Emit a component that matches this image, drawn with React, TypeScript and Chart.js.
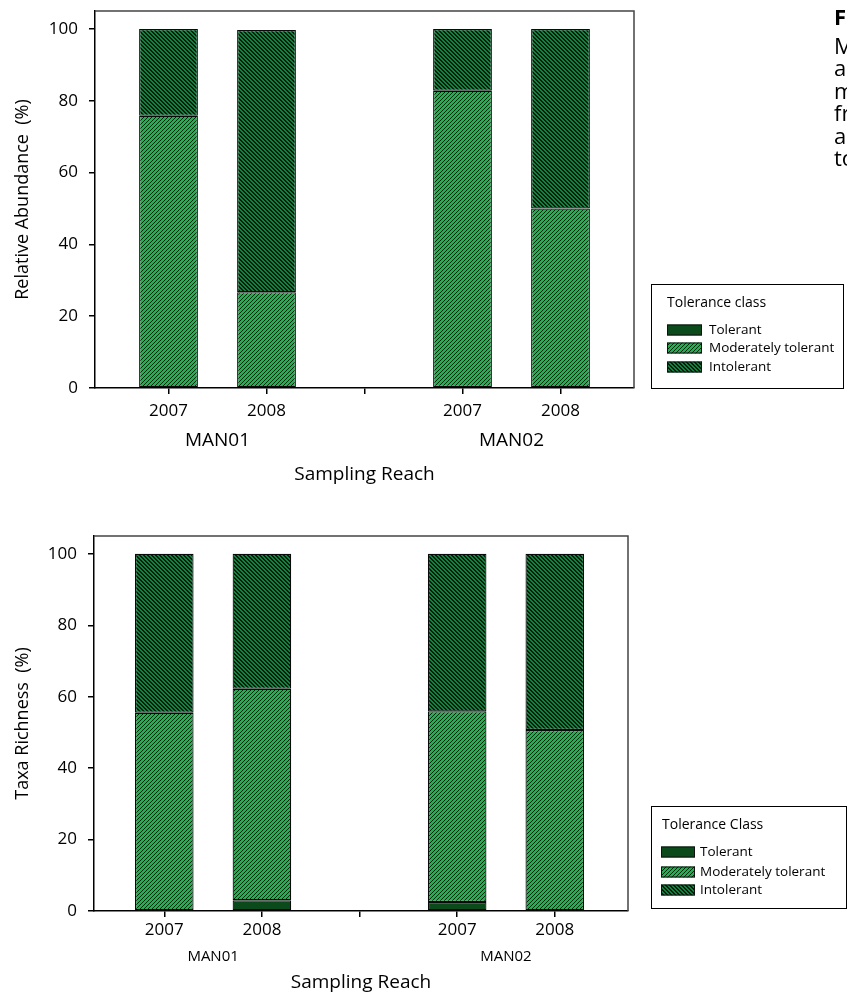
import React, { useEffect, useRef } from "react";
import { Chart, registerables } from "chart.js";

Chart.register(...registerables);

const FONT = "'Open Sans', 'Noto Sans', sans-serif";
Chart.defaults.font.family = FONT;
Chart.defaults.color = "#000";

// x positions: 0,1 = MAN01 2007/2008, 3,4 = MAN02 2007/2008
const yearTicks = ["2007", "2008", "", "2007", "2008"];
const barPositions = [0, 1, 3, 4];
const reaches = ["MAN01", "MAN02"];
const reachPositions = [0.5, 3.5];
const yTicks = [0, 20, 40, 60, 80, 100];
const classes = ["Tolerant", "Moderately tolerant", "Intolerant"];

// relative abundance (%)
const abundanceTolerant = [0, 0, 0.3, 0];
const abundanceModerate = [75.8, 26.7, 82.5, 50.0];
const abundanceIntolerant = [24.2, 73.0, 17.2, 50.0];

// taxa richness (%)
const richnessTolerant = [0, 3.0, 2.5, 0];
const richnessModerate = [55.5, 59.2, 53.4, 50.7];
const richnessIntolerant = [44.5, 37.8, 44.1, 49.3];

function hatch(base: string, line: string, dir: "/" | "\\", black: number) {
    const size = 4;
    const c = document.createElement("canvas");
    c.width = size;
    c.height = size;
    const g = c.getContext("2d")!;
    g.fillStyle = base;
    g.fillRect(0, 0, size, size);
    g.fillStyle = line;
    for (let y = 0; y < size; y++) {
        for (let x = 0; x < size; x++) {
            const k = dir === "/" ? (x + y) % size : (x - y + size) % size;
            if (k < black) g.fillRect(x, y, 1, 1);
        }
    }
    return g.createPattern(c, "repeat")!;
}

const framePlugin = {
    id: "frame",
    afterDraw(chart: any) {
        const { ctx, chartArea: a } = chart;
        ctx.save();
        ctx.strokeStyle = "#444";
        ctx.lineWidth = 1.5;
        ctx.beginPath();
        ctx.moveTo(a.left, a.top);
        ctx.lineTo(a.right, a.top);
        ctx.lineTo(a.right, a.bottom);
        ctx.stroke();
        ctx.restore();
    },
};

const legendPlugin = {
    id: "boxLegend",
    afterDraw(chart: any, _args: any, o: any) {
        const { ctx } = chart;
        ctx.save();
        ctx.strokeStyle = "#000";
        ctx.lineWidth = 1;
        ctx.strokeRect(o.x + 0.5, o.y + 0.5, o.w, o.h);
        ctx.textBaseline = "middle";
        ctx.fillStyle = "#000";
        ctx.font = `${o.titleSize}px ${FONT}`;
        ctx.fillText(o.title, o.titleX, o.titleY);
        ctx.font = `${o.labelSize}px ${FONT}`;
        chart.data.datasets.forEach((ds: any, i: number) => {
            const cy = o.rowY[i];
            ctx.fillStyle = ds.backgroundColor;
            ctx.fillRect(o.boxX, cy - o.boxH / 2, o.boxW, o.boxH);
            ctx.strokeStyle = "#111";
            ctx.strokeRect(o.boxX + 0.5, cy - o.boxH / 2 + 0.5, o.boxW - 1, o.boxH - 1);
            ctx.fillStyle = "#000";
            ctx.fillText(ds.label, o.textX, cy);
        });
        ctx.restore();
    },
};

interface PanelProps {
    top: number;
    height: number;
    area: { left: number; top: number; right: number; bottom: number };
    xMin: number;
    xMax: number;
    tickPad: number;
    xHeight: number;
    reachFont: number;
    reachPad: number;
    titlePad: number;
    yTitle: string;
    tolerant: number[];
    moderate: number[];
    intolerant: number[];
    legend: any;
}

function Panel(p: PanelProps) {
    const ref = useRef<HTMLCanvasElement | null>(null);

    useEffect(() => {
        if (!ref.current) return;
        const pts = (vals: number[]) =>
            barPositions.map((x, i) => ({ x, y: vals[i] }));
        const common = {
            // no outline for empty segments
            borderWidth: (c: any) => (c.raw && c.raw.y > 0 ? 1.2 : 0),
            borderColor: "#0a0a0a",
            borderSkipped: false,
            categoryPercentage: 1,
            barPercentage: 0.6,
        };
        const x2Height = p.height - p.area.bottom - p.xHeight;
        const noPad = (s: any) => {
            s.paddingTop = 0;
            s.paddingBottom = 0;
            s.paddingLeft = 0;
            s.paddingRight = 0;
        };

        const chart = new Chart(ref.current, {
            type: "bar",
            data: {
                datasets: [
                    {
                        label: classes[0],
                        data: pts(p.tolerant),
                        backgroundColor: "#0a4a1b",
                        ...common,
                    },
                    {
                        label: classes[1],
                        data: pts(p.moderate),
                        backgroundColor: hatch("#17b64b", "#08230f", "/", 1),
                        ...common,
                    },
                    {
                        label: classes[2],
                        data: pts(p.intolerant),
                        backgroundColor: hatch("#12823f", "#03200e", "\\", 2),
                        ...common,
                    },
                ] as any,
            },
            options: {
                responsive: false,
                animation: false,
                layout: {
                    padding: {
                        left: 0,
                        top: p.area.top,
                        right: 847 - p.area.right,
                        bottom: 0,
                    },
                },
                plugins: {
                    legend: { display: false },
                    tooltip: { enabled: false },
                    boxLegend: p.legend,
                } as any,
                scales: {
                    x: {
                        type: "linear",
                        min: p.xMin,
                        max: p.xMax,
                        offset: false,
                        stacked: true,
                        grid: {
                            drawOnChartArea: false,
                            offset: false,
                            tickLength: 6,
                            color: "#000",
                            lineWidth: 1.5,
                        },
                        border: { color: "#000", width: 1.5 },
                        ticks: {
                            stepSize: 1,
                            includeBounds: false,
                            autoSkip: false,
                            maxRotation: 0,
                            padding: p.tickPad,
                            font: { size: 17 },
                            callback: (v: any) => yearTicks[Number(v)] ?? "",
                        },
                        afterFit: (s: any) => {
                            s.height = p.xHeight;
                            noPad(s);
                        },
                    },
                    x2: {
                        type: "linear",
                        position: "bottom",
                        weight: 1,
                        min: p.xMin,
                        max: p.xMax,
                        offset: false,
                        grid: { display: false, drawTicks: false },
                        border: { display: false },
                        ticks: {
                            autoSkip: false,
                            maxRotation: 0,
                            padding: p.reachPad,
                            font: { size: p.reachFont },
                            callback: (v: any) =>
                                reaches[reachPositions.indexOf(Number(v))] ?? "",
                        },
                        afterBuildTicks: (s: any) => {
                            s.ticks = reachPositions.map((value) => ({ value }));
                        },
                        title: {
                            display: true,
                            text: "Sampling Reach",
                            font: { size: 19 },
                            padding: { top: 0, bottom: p.titlePad },
                        },
                        afterFit: (s: any) => {
                            s.height = x2Height;
                            noPad(s);
                        },
                    },
                    y: {
                        min: 0,
                        max: 105,
                        stacked: true,
                        grid: {
                            drawOnChartArea: false,
                            tickLength: 6,
                            color: "#000",
                            lineWidth: 1.5,
                        },
                        border: { color: "#000", width: 1.5 },
                        ticks: { padding: 11, font: { size: 17 } },
                        afterBuildTicks: (s: any) => {
                            s.ticks = yTicks.map((value) => ({ value }));
                        },
                        title: {
                            display: true,
                            text: p.yTitle,
                            font: { size: 18 },
                            padding: { top: 12, bottom: 0 },
                        },
                        afterFit: (s: any) => {
                            s.width = p.area.left;
                            noPad(s);
                        },
                    },
                } as any,
            },
            plugins: [framePlugin, legendPlugin],
        });

        return () => chart.destroy();
    }, [p]);

    return (
        <canvas
            ref={ref}
            width={847}
            height={p.height}
            style={{ position: "absolute", left: 0, top: p.top, display: "block" }}
        />
    );
}

const topLegend = {
    x: 651, y: 284, w: 192, h: 104,
    title: "Tolerance class", titleX: 667, titleY: 303, titleSize: 14,
    rowY: [330, 348, 367], boxX: 667, boxW: 35, boxH: 11,
    textX: 709, labelSize: 13.5,
};

const bottomLegend = {
    x: 651, y: 306, w: 195, h: 102,
    title: "Tolerance Class", titleX: 662, titleY: 325, titleSize: 14,
    rowY: [352, 372, 390], boxX: 661, boxW: 34, boxH: 11,
    textX: 700, labelSize: 13.5,
};

const topPanel: PanelProps = {
    top: 0, height: 500,
    area: { left: 95, top: 11, right: 634, bottom: 388 },
    xMin: -0.75, xMax: 4.75, tickPad: 7, xHeight: 34,
    reachFont: 19, reachPad: 7, titlePad: 14,
    yTitle: "Relative Abundance  (%)",
    tolerant: abundanceTolerant, moderate: abundanceModerate, intolerant: abundanceIntolerant,
    legend: topLegend,
};

const bottomPanel: PanelProps = {
    top: 500, height: 494,
    area: { left: 94, top: 36, right: 628, bottom: 411 },
    xMin: -0.72, xMax: 4.75, tickPad: 3, xHeight: 30,
    reachFont: 15, reachPad: 7, titlePad: 0,
    yTitle: "Taxa Richness  (%)",
    tolerant: richnessTolerant, moderate: richnessModerate, intolerant: richnessIntolerant,
    legend: bottomLegend,
};

const captionLines = ["Macroinvertebrate", "abundance and", "metrics", "from MAN01", "and MAN02 by", "tolerance class."];

export default function App() {
    return (
        <div
            style={{
                position: "absolute",
                left: 0,
                top: 0,
                width: 847,
                height: 994,
                overflow: "hidden",
                background: "#fff",
            }}
        >
            <Panel {...topPanel} />
            <Panel {...bottomPanel} />
            <div
                style={{
                    position: "absolute",
                    left: 834,
                    top: 5,
                    fontFamily: FONT,
                    fontSize: 22,
                    lineHeight: "22.5px",
                    whiteSpace: "nowrap",
                    color: "#000",
                }}
            >
                <div style={{ fontWeight: 700, marginBottom: 6 }}>Figure 4.</div>
                {captionLines.map((l, i) => (
                    <div key={i}>{l}</div>
                ))}
            </div>
        </div>
    );
}
